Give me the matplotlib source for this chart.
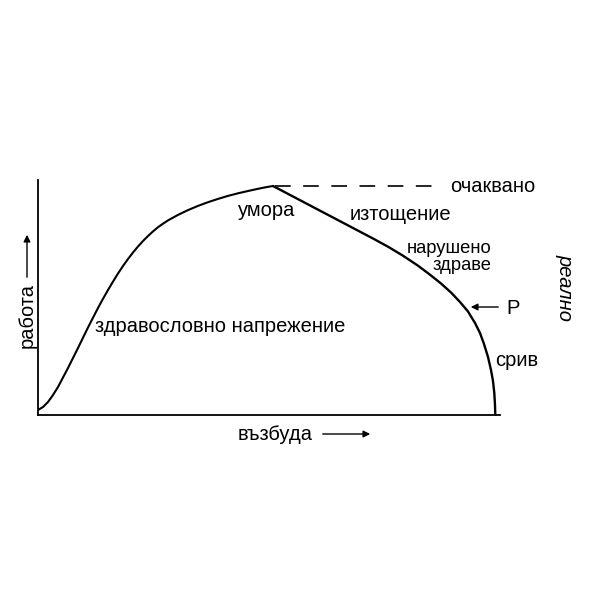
import matplotlib
matplotlib.use("Agg")
import matplotlib.pyplot as plt

plt.rcParams['font.family'] = ['Liberation Sans', 'DejaVu Sans']

# curve (x = excitation, y = work), units ~ pixels
rise_x = [0, 5, 10, 15, 20, 25, 30, 35, 40, 45, 50, 55, 60, 65, 70, 75, 80, 85, 90, 95, 100,
          105, 110, 115, 120, 125, 130, 140, 150, 160, 170, 180, 190, 200, 210, 220, 228, 235]
rise_y = [5, 8, 13, 20, 28, 37.5, 47, 57, 67, 77.3, 87.5, 97.3, 107, 116.2, 125, 133.4, 141.5, 149, 156, 162.5, 168.5,
          174, 179, 183.6, 187.8, 191.3, 194.6, 200.1, 204.9, 209.1, 212.8, 216.1, 219.1, 221.7, 224, 226.2, 227.8, 229]
fall_x = [235, 255, 275, 295, 315, 335, 350, 365, 380, 392, 403, 413, 422, 430, 437, 442, 446, 450, 453, 455, 456.3, 457, 457.3]
fall_y = [229, 218.5, 208, 197.5, 187, 176.5, 168.3, 159.3, 149.3, 140.3, 131.5, 122.5, 113, 103.5, 92, 82, 71, 58, 45, 34, 22, 10, 0]
expected_x = [237, 396]
expected_y = [229, 229]

fig = plt.figure(figsize=(6, 6), dpi=100)
ax = fig.add_axes([38/600, (600-415)/600, (500-38)/600, (415-180)/600])
ax.set_xlim(0, 462)
ax.set_ylim(0, 235)
for s in ['top', 'right']:
    ax.spines[s].set_visible(False)
for s in ['left', 'bottom']:
    ax.spines[s].set_linewidth(1.3)
ax.set_xticks([])
ax.set_yticks([])

ax.plot(rise_x, rise_y, color='black', lw=1.5, solid_capstyle='round', solid_joinstyle='round')
ax.plot(fall_x, fall_y, color='black', lw=1.7, solid_capstyle='round', solid_joinstyle='round')
ax.plot(expected_x, expected_y, color='black', lw=1.2, dashes=(9.4, 7.5))

fs = 14.5
def T(x, y, s, **kw):
    kw.setdefault('fontsize', fs)
    ax.text(x, y, s, clip_on=False, **kw)

T(412, 229, 'очаквано', ha='left', va='center')
T(229, 204, 'умора', ha='center', va='center')
T(362, 201, 'изтощение', ha='center', va='center')
T(454, 175, 'нарушено\nздраве', ha='right', va='top', multialignment='right',
  fontsize=13.2, linespacing=1.0)
T(182, 88, 'здравословно напрежение', ha='center', va='center')
T(479, 55, 'срив', ha='center', va='center')
T(475, 107, 'P', ha='center', va='center')
ax.annotate('', xy=(430, 108), xytext=(463, 108),
            arrowprops=dict(arrowstyle='-|>', color='black', lw=1.0, mutation_scale=10),
            annotation_clip=False)
ax.text(527, 128, 'реално', fontsize=fs, rotation=270, style='italic',
        ha='center', va='center', clip_on=False)

# axis labels with arrows
ax.text(-11, 100, 'работа', fontsize=fs, rotation=90, ha='center', va='center', clip_on=False)
ax.annotate('', xy=(-11, 183), xytext=(-11, 135),
            arrowprops=dict(arrowstyle='-|>', color='black', lw=1.0, mutation_scale=10),
            annotation_clip=False)
ax.text(237, -19, 'възбуда', fontsize=fs, ha='center', va='center', clip_on=False)
ax.annotate('', xy=(335, -19), xytext=(282, -19),
            arrowprops=dict(arrowstyle='-|>', color='black', lw=1.0, mutation_scale=10),
            annotation_clip=False)

fig.savefig('out.png', dpi=100, facecolor='white')
